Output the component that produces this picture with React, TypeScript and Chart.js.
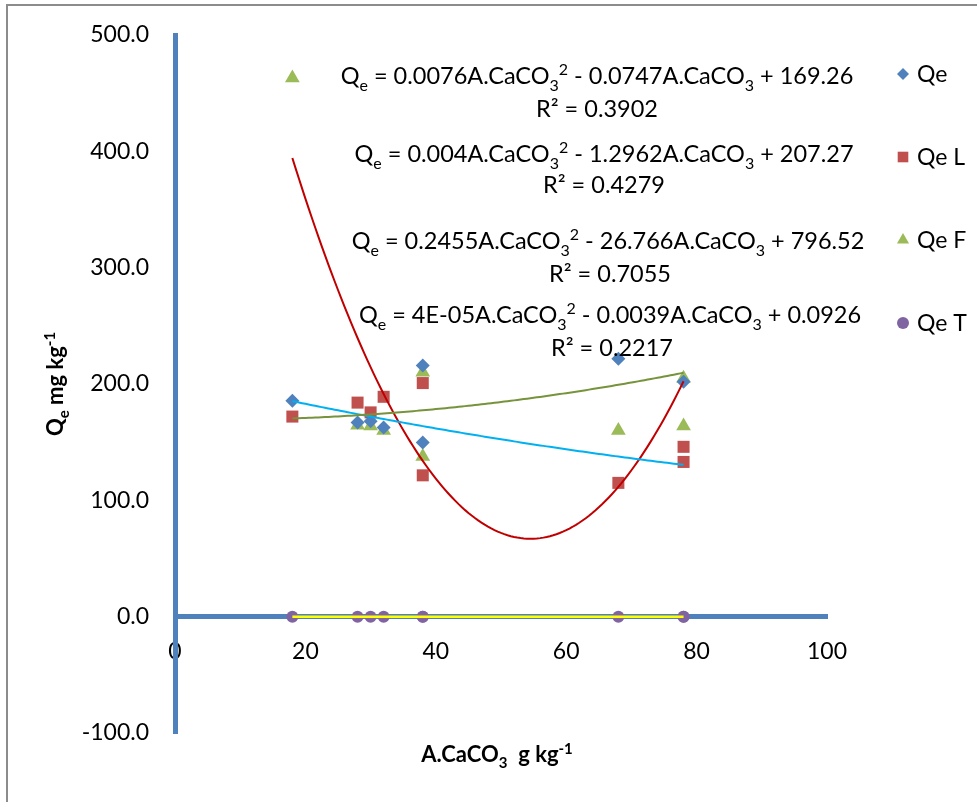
import React, { useEffect, useRef } from 'react';
import { Chart, registerables } from 'chart.js';
import { drawPoint } from 'chart.js/helpers';

Chart.register(...registerables);

// ---- data ----
const xValues = [18, 28, 30, 32, 38, 38, 68, 78, 78];
const qeValues = [185.6, 167, 168, 162.6, 216, 149.7, 221.6, 202, null];
const qeLValues = [172, 184, 175.6, 189, 200.8, 121.5, 115, 146, 133];
const qeFValues = [463, 164.6, 164, 160, 210, 137.7, 160, 205, 164];
const qeTValues = [0, 0, 0, 0, 0, 0, 0, 0, 0];
const seriesNames = ['Qe', 'Qe L', 'Qe F', 'Qe T'];
const xTickValues = [0, 20, 40, 60, 80, 100];
const yTickValues = [-100, 0, 100, 200, 300, 400, 500];

// polynomial trendline coefficients as printed on the chart [c0, c1, c2]
const fitQe = [169.26, -0.0747, 0.0076];
const fitQeL = [207.27, -1.2962, 0.004];
const fitQeF = [796.52, -26.766, 0.2455];
const fitQeT = [0.0926, -0.0039, 0.00004];
// printed equation parts: [a, b, c, R²]
const eqQe = ['0.0076', '0.0747', '169.26', '0.3902'];
const eqQeL = ['0.004', '1.2962', '207.27', '0.4279'];
const eqQeF = ['0.2455', '26.766', '796.52', '0.7055'];
const eqQeT = ['4E-05', '0.0039', '0.0926', '0.2217'];

const FAM = 'Lato, "Open Sans", sans-serif';
const AXIS_BLUE = '#4F81BD';

type Seg = { t: string; k?: 'sub' | 'sup' };

function drawRich(ctx: CanvasRenderingContext2D, segs: Seg[], x: number, y: number, size: number, bold: boolean, align: 'center' | 'left' = 'center') {
  const w = bold ? 'bold ' : '';
  const main = `${w}${size}px ${FAM}`;
  const small = `${w}${Math.round(size * 0.66)}px ${FAM}`;
  let total = 0;
  const widths: number[] = [];
  for (const s of segs) {
    ctx.font = s.k ? small : main;
    const m = ctx.measureText(s.t).width;
    widths.push(m);
    total += m;
  }
  let cx = align === 'center' ? x - total / 2 : x;
  ctx.textAlign = 'left';
  ctx.textBaseline = 'alphabetic';
  segs.forEach((s, i) => {
    ctx.font = s.k ? small : main;
    const dy = s.k === 'sub' ? size * 0.28 : s.k === 'sup' ? -size * 0.38 : 0;
    ctx.fillText(s.t, cx, y + dy);
    cx += widths[i];
  });
}

function eqSegs(p: string[]): Seg[] {
  return [
    { t: 'Q' }, { t: 'e', k: 'sub' },
    { t: ` = ${p[0]}A.CaCO` }, { t: '3', k: 'sub' }, { t: '2', k: 'sup' },
    { t: ` - ${p[1]}A.CaCO` }, { t: '3', k: 'sub' },
    { t: ` + ${p[2]}` },
  ];
}

function trend(coef: number[]) {
  const lo = Math.min(...xValues);
  const hi = Math.max(...xValues);
  const pts: { x: number; y: number }[] = [];
  for (let x = lo; x <= hi + 1e-9; x += 0.5) {
    pts.push({ x, y: coef[0] + coef[1] * x + coef[2] * x * x });
  }
  return pts;
}

function pairs(vals: (number | null)[]) {
  const out: { x: number; y: number }[] = [];
  vals.forEach((v, i) => {
    if (v !== null) out.push({ x: xValues[i], y: v });
  });
  return out;
}

const decorPlugin = {
  id: 'decor',
  beforeDraw(chart: any) {
    const ctx = chart.ctx as CanvasRenderingContext2D;
    ctx.save();
    ctx.fillStyle = '#ffffff';
    ctx.fillRect(0, 0, chart.width, chart.height);
    ctx.strokeStyle = '#8c8c8c';
    ctx.lineWidth = 2;
    ctx.beginPath();
    ctx.moveTo(7, 810);
    ctx.lineTo(7, 5);
    ctx.lineTo(990, 5);
    ctx.stroke();
    ctx.restore();
  },
  afterDraw(chart: any) {
    const ctx = chart.ctx as CanvasRenderingContext2D;
    ctx.save();
    ctx.fillStyle = '#000000';
    const eqs = [
      { p: eqQe, cx: 597, y: 84, ry: 117, rcx: 597 },
      { p: eqQeL, cx: 604, y: 162, ry: 193, rcx: 604 },
      { p: eqQeF, cx: 608, y: 249, ry: 282, rcx: 610 },
      { p: eqQeT, cx: 610, y: 323, ry: 356, rcx: 612 },
    ];
    for (const e of eqs) {
      drawRich(ctx, eqSegs(e.p), e.cx, e.y, 23.5, false);
      drawRich(ctx, [{ t: `R² = ${e.p[3]}` }], e.rcx, e.ry, 23.5, false);
    }
    // axis titles
    drawRich(ctx, [{ t: 'A.CaCO' }, { t: '3', k: 'sub' }, { t: '  g kg' }, { t: '-1', k: 'sup' }], 497, 762, 22, true);
    ctx.save();
    ctx.translate(63, 384);
    ctx.rotate(-Math.PI / 2);
    drawRich(ctx, [{ t: 'Q' }, { t: 'e', k: 'sub' }, { t: ' mg kg' }, { t: '-1', k: 'sup' }], 0, 0, 22, true);
    ctx.restore();
    // legend
    const legendY = [74, 157, 240, 323];
    for (let i = 0; i < 4; i++) {
      const ds = chart.data.datasets[i];
      ctx.fillStyle = ds.backgroundColor;
      ctx.strokeStyle = ds.borderColor;
      ctx.lineWidth = 1;
      const r = ds.pointStyle === 'rect' ? 7.5 : ds.pointStyle === 'triangle' ? 7 : 6;
      drawPoint(ctx, { pointStyle: ds.pointStyle, radius: r, rotation: 0, borderWidth: 0 } as any, 903, legendY[i]);
      ctx.fillStyle = '#000000';
      ctx.font = `23px ${FAM}`;
      ctx.textAlign = 'left';
      ctx.textBaseline = 'middle';
      ctx.fillText(seriesNames[i], 917, legendY[i] + 1);
    }
    ctx.restore();
  },
};

export default function App() {
  const ref = useRef<HTMLCanvasElement | null>(null);
  useEffect(() => {
    document.body.style.margin = '0';
    const canvas = ref.current!;
    const tickFont = { family: FAM, size: 23 };
    const chart = new Chart(canvas, {
      type: 'scatter',
      data: {
        datasets: [
          { label: seriesNames[0], data: pairs(qeValues), pointStyle: 'rectRot', pointRadius: 7, backgroundColor: '#4F81BD', borderColor: '#4F81BD', borderWidth: 0, order: 2 },
          { label: seriesNames[1], data: pairs(qeLValues), pointStyle: 'rect', pointRadius: 8.5, backgroundColor: '#C0504D', borderColor: '#C0504D', borderWidth: 0, order: 2 },
          { label: seriesNames[2], data: pairs(qeFValues), pointStyle: 'triangle', pointRadius: 8.5, backgroundColor: '#9BBB59', borderColor: '#9BBB59', borderWidth: 0, order: 2 },
          { label: seriesNames[3], data: pairs(qeTValues), pointStyle: 'circle', pointRadius: 6, backgroundColor: '#8064A2', borderColor: '#8064A2', borderWidth: 0, order: 2 },
          { label: 'fit Qe', data: trend(fitQe), showLine: true, pointRadius: 0, borderColor: '#77933C', borderWidth: 2, backgroundColor: '#77933C', order: 1 },
          { label: 'fit Qe L', data: trend(fitQeL), showLine: true, pointRadius: 0, borderColor: '#00B0F0', borderWidth: 2, backgroundColor: '#00B0F0', order: 1 },
          { label: 'fit Qe F', data: trend(fitQeF), showLine: true, pointRadius: 0, borderColor: '#C00000', borderWidth: 2, backgroundColor: '#C00000', order: 1 },
          { label: 'fit Qe T', data: trend(fitQeT), showLine: true, pointRadius: 0, borderColor: '#FFFF00', borderWidth: 2.5, backgroundColor: '#FFFF00', order: 1 },
        ] as any,
      },
      options: {
        animation: false,
        responsive: false,
        maintainAspectRatio: false,
        layout: { padding: { left: 0, right: 150, top: 35, bottom: 69 } },
        plugins: { legend: { display: false }, tooltip: { enabled: false } },
        scales: {
          x: {
            type: 'linear',
            min: 0,
            max: 100,
            position: { y: 0 } as any,
            afterBuildTicks: (s: any) => { s.ticks = xTickValues.map((v) => ({ value: v })); },
            grid: { display: false, drawTicks: true, tickLength: 10 },
            border: { display: true, color: AXIS_BLUE, width: 5 },
            ticks: { font: tickFont, color: '#000000', padding: 11, maxRotation: 0, callback: (v: any) => String(v) },
          },
          y: {
            type: 'linear',
            min: -100,
            max: 500,
            position: 'left',
            afterFit: (s: any) => { s.width = 175; },
            afterBuildTicks: (s: any) => { s.ticks = yTickValues.map((v) => ({ value: v })); },
            grid: { display: false, drawTicks: true, tickLength: 24 },
            border: { display: true, color: AXIS_BLUE, width: 5 },
            ticks: { font: tickFont, color: '#000000', padding: 2, callback: (v: any) => Number(v).toFixed(1) },
          },
        },
      } as any,
      plugins: [decorPlugin],
    });
    return () => chart.destroy();
  }, []);
  return (
    <div style={{ width: 977, height: 802 }}>
      <canvas ref={ref} width={977} height={802} style={{ display: 'block', width: 977, height: 802 }} />
    </div>
  );
}
